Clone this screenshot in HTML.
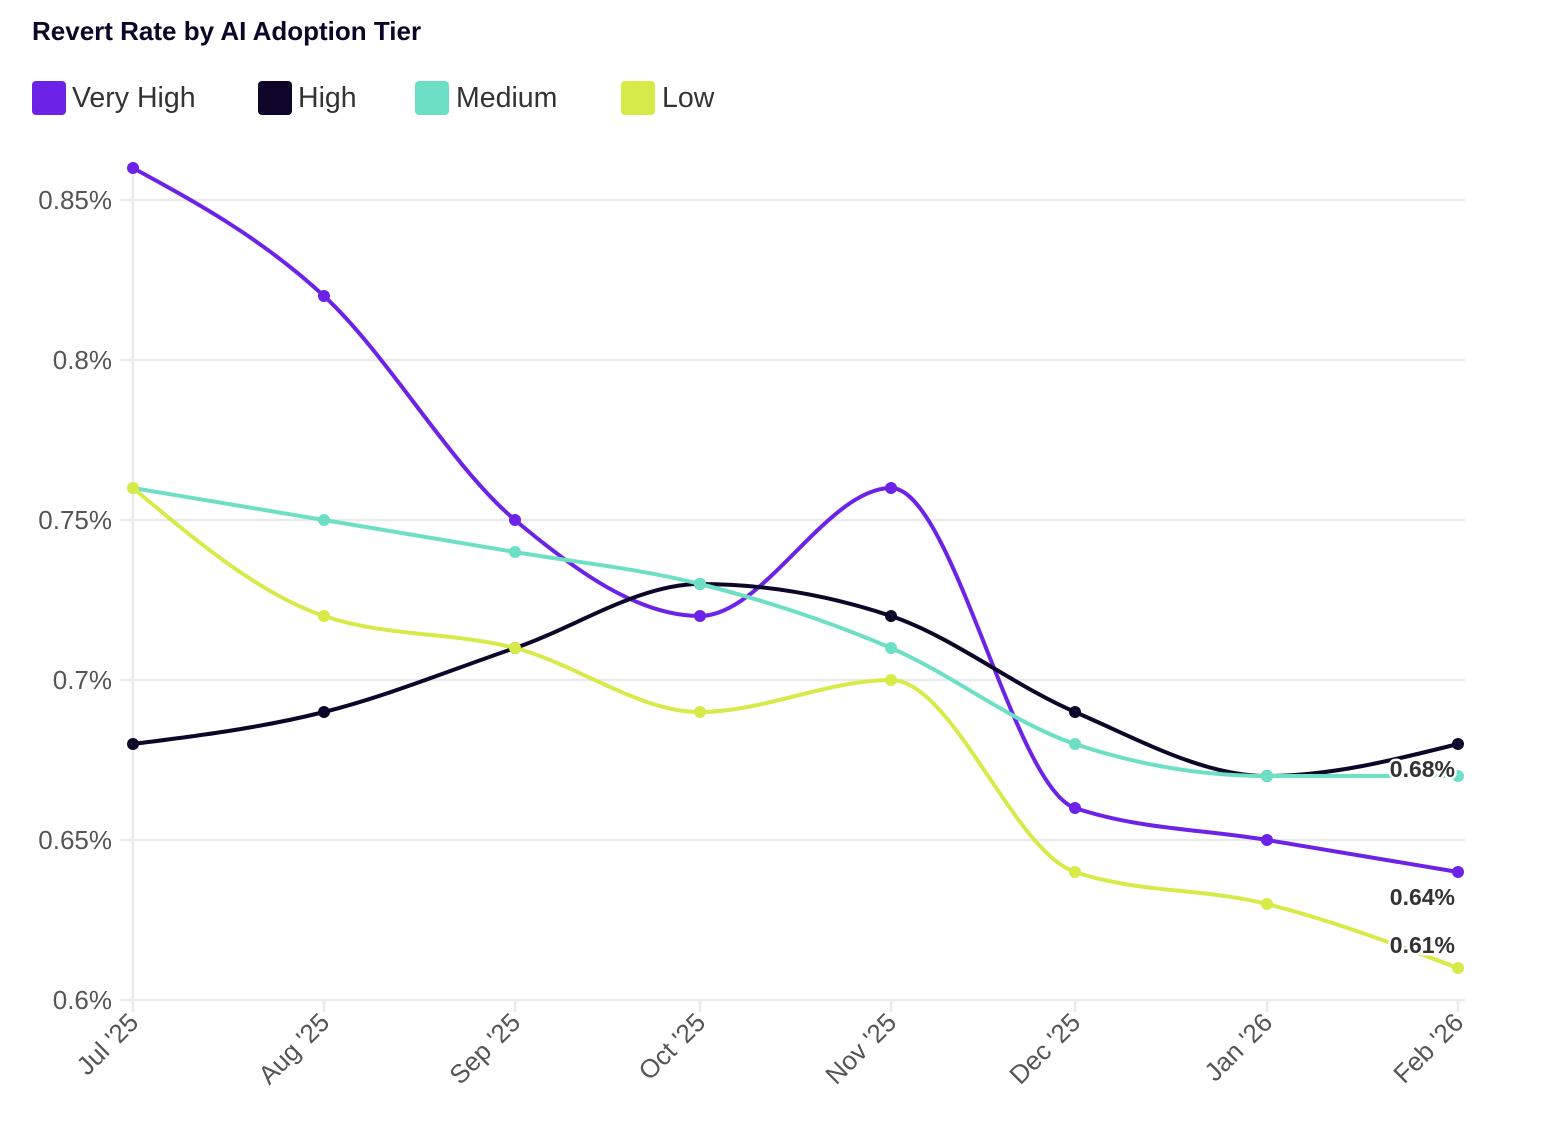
<!DOCTYPE html>
<html><head><meta charset="utf-8">
<style>
body{margin:0;background:#fff;width:1542px;height:1138px;overflow:hidden;font-family:"Liberation Sans",sans-serif}
</style></head>
<body>
<svg id="s" width="1542" height="1138" xmlns="http://www.w3.org/2000/svg" style="position:absolute;left:0;top:0">
<text x="32" y="40" font-size="26" font-weight="bold" fill="#0d0628">Revert Rate by AI Adoption Tier</text>
<rect x="32" y="81" width="34" height="34" rx="4" fill="#6d22e8"/><text x="72" y="107" font-size="28.5" fill="#333">Very High</text>
<rect x="258" y="81" width="34" height="34" rx="4" fill="#0d0628"/><text x="298" y="107" font-size="28.5" fill="#333">High</text>
<rect x="415" y="81" width="34" height="34" rx="4" fill="#6ddfc4"/><text x="456" y="107" font-size="28.5" fill="#333">Medium</text>
<rect x="621" y="81" width="34" height="34" rx="4" fill="#d6ea48"/><text x="662" y="107" font-size="28.5" fill="#333">Low</text>
<g id="grid"></g>
<g id="lines"></g>
<g font-size="23" font-weight="bold" fill="#333" text-anchor="end" stroke="#fff" stroke-width="5" paint-order="stroke">
<text x="1455" y="777">0.68%</text>
<text x="1455" y="905">0.64%</text>
<text x="1455" y="953">0.61%</text>
</g>
</svg>
<script>
const X=[133,324,515,700,891,1075,1267,1458];
const Y=v=>1000-(v-0.6)*3200;
const ns="http://www.w3.org/2000/svg";
function el(p,t,a){const e=document.createElementNS(ns,t);for(const k in a)e.setAttribute(k,a[k]);p.appendChild(e);return e;}
const g=document.getElementById('grid');
[0.6,0.65,0.7,0.75,0.8,0.85].forEach(v=>{
 el(g,'line',{x1:120,x2:1465,y1:Y(v),y2:Y(v),stroke:'#ebebeb','stroke-width':2.5});
 const t=el(g,'text',{x:112,y:Y(v)+9,'font-size':26,fill:'#555','text-anchor':'end'});t.textContent=(v===0.6?'0.6':v===0.7?'0.7':v===0.8?'0.8':String(v))+'%';
});
el(g,'line',{x1:133,x2:133,y1:170,y2:1000,stroke:'#ebebeb','stroke-width':2.5});
const labs=["Jul '25","Aug '25","Sep '25","Oct '25","Nov '25","Dec '25","Jan '26","Feb '26"];
X.forEach((x,i)=>{
 el(g,'line',{x1:x,x2:x,y1:1000,y2:1012,stroke:'#ebebeb','stroke-width':2.5});
 const t=el(g,'text',{x:x+7,y:1024,'font-size':26,fill:'#555','text-anchor':'end',transform:`rotate(-45 ${x+7} 1024)`});t.textContent=labs[i];
});
function mono(xs,ys){
 const n=xs.length,d=[],m=[];
 for(let i=0;i<n-1;i++)d.push((ys[i+1]-ys[i])/(xs[i+1]-xs[i]));
 for(let i=1;i<n-1;i++){
  const h0=xs[i]-xs[i-1],h1=xs[i+1]-xs[i];
  const p=(d[i-1]*h1+d[i]*h0)/(h0+h1);
  m[i]=(Math.sign(d[i-1])+Math.sign(d[i]))*Math.min(Math.abs(d[i-1]),Math.abs(d[i]),0.5*Math.abs(p))||0;
 }
 m[0]=(3*d[0]-m[1])/2;
 m[n-1]=(3*d[n-2]-m[n-2])/2;
 let s=`M${xs[0]},${ys[0]}`;
 for(let i=0;i<n-1;i++){const dx=(xs[i+1]-xs[i])/3;
  s+=`C${xs[i]+dx},${ys[i]+m[i]*dx} ${xs[i+1]-dx},${ys[i+1]-m[i+1]*dx} ${xs[i+1]},${ys[i+1]}`;}
 return s;
}
const series=[
 ['#6d22e8',[.86,.82,.75,.72,.76,.66,.65,.64]],
 ['#0d0628',[.68,.69,.71,.73,.72,.69,.67,.68]],
 ['#6ddfc4',[.76,.75,.74,.73,.71,.68,.67,.67]],
 ['#d6ea48',[.76,.72,.71,.69,.70,.64,.63,.61]]];
const L=document.getElementById('lines');
series.forEach(([c,v])=>{
 const ys=v.map(Y);
 el(L,'path',{d:mono(X,ys),fill:'none',stroke:c,'stroke-width':4});
 X.forEach((x,i)=>el(L,'circle',{cx:x,cy:ys[i],r:6,fill:c}));
});
</script>
</body></html>
